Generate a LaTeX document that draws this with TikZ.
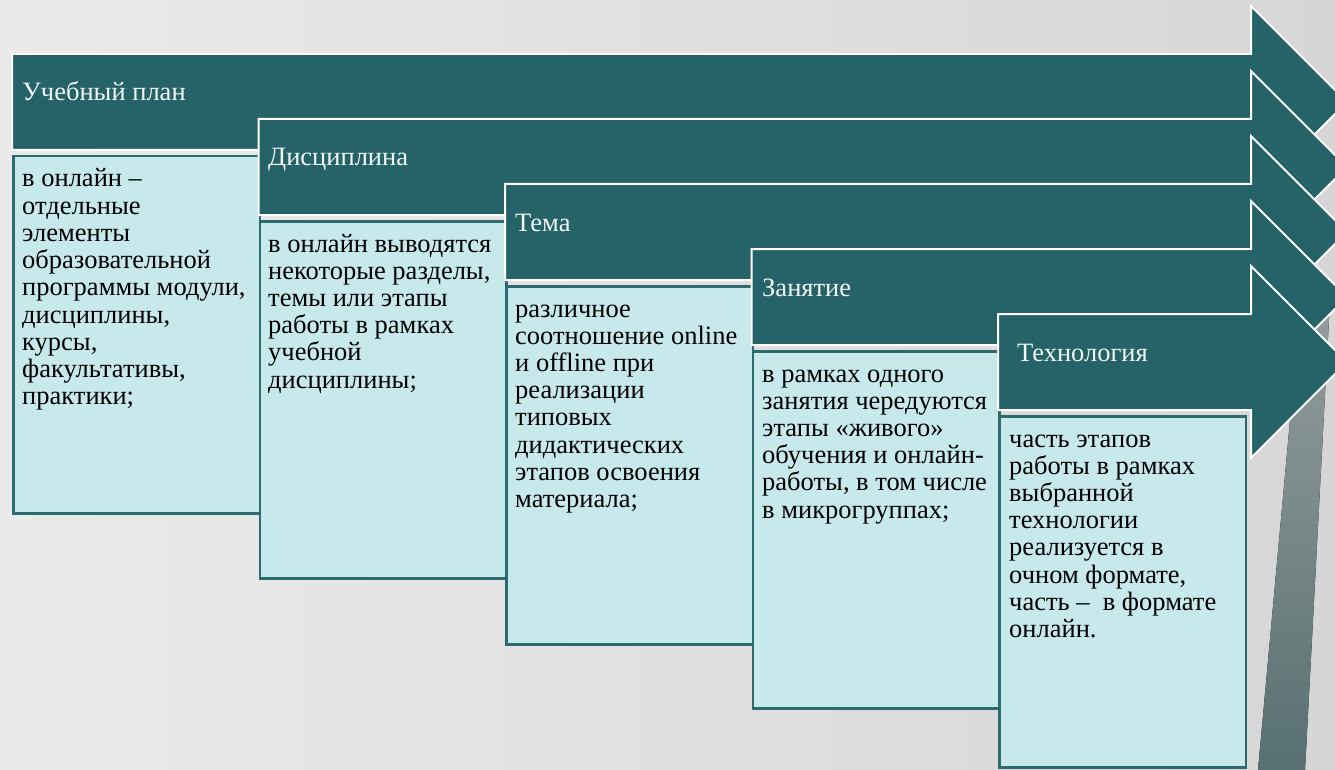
\documentclass[tikz,border=0pt]{standalone}
\usepackage{fontspec}
\setmainfont{Liberation Serif}
\usepackage{xcolor}
\usepackage{tikz}

\definecolor{stagefill}{RGB}{37,99,104}
\definecolor{notefill}{RGB}{200,233,236}
\definecolor{noteline}{RGB}{44,106,111}
\definecolor{bgleft}{RGB}{234,234,234}
\definecolor{bgright}{RGB}{214,214,214}
\definecolor{bartop}{RGB}{150,158,158}
\definecolor{barbottom}{RGB}{88,112,112}

\tikzset{
    stage/.style={fill=stagefill, draw=white, line width=2pt, line join=miter},
    note/.style={fill=notefill, draw=noteline, line width=2.5pt, anchor=north west,
        minimum width=246.5pt, inner sep=0pt},
    stagelabel/.style={anchor=base west, inner sep=0pt, text=white!94!stagefill,
        font=\fontsize{26.5}{27.2}\selectfont},
    notetext/.style={anchor=base west, inner sep=0pt, text=black,
        font=\fontsize{26.5}{27.2}\selectfont},
}

\begin{document}
\begin{tikzpicture}[x=1pt, y=-1pt]
    \useasboundingbox (0,0) rectangle (1335,770);
    \clip (0,0) rectangle (1335,770);
    \fill[left color=bgleft, right color=bgright] (0,0) rectangle (1335,770);
    \fill[top color=bartop, bottom color=barbottom]
        (1301,300) -- (1330,300) -- (1305,770) -- (1258,770) -- cycle;

    \foreach \k/\h in {0/357, 1/357, 2/358, 3/357, 4/351} {
        \pgfmathsetmacro{\xleft}{12+246.5*\k}
        \pgfmathsetmacro{\ytop}{54+65*\k}
        \draw[stage] (\xleft,\ytop) -- (1251,\ytop) -- (1251,\ytop-48) -- (1347,\ytop+48)
            -- (1251,\ytop+144) -- (1251,\ytop+96) -- (\xleft,\ytop+96) -- cycle;
        \node[note, minimum height=\h pt] (note\k) at (\xleft,\ytop+101) {};
    }

    \node[stagelabel] (plan) at (22,101) {Учебный план};
    \node[stagelabel] (discipline) at (268,166) {Дисциплина};
    \node[stagelabel] (topic) at (515,231) {Тема};
    \node[stagelabel] (lesson) at (762,296) {Занятие};
    \node[stagelabel] (tech) at (1017,361) {Технология};

    \node[notetext] (plantext) at (22,187) {
        \begin{tabular}[t]{@{}l@{}}
            в онлайн –\\
            отдельные\\
            элементы\\
            образовательной\\
            программы модули,\\
            дисциплины,\\
            курсы,\\
            факультативы,\\
            практики;
        \end{tabular}
    };
    \node[notetext] (disciplinetext) at (268,252) {
        \begin{tabular}[t]{@{}l@{}}
            в онлайн выводятся\\
            некоторые разделы,\\
            темы или этапы\\
            работы в рамках\\
            учебной\\
            дисциплины;
        \end{tabular}
    };
    \node[notetext] (topictext) at (515,317) {
        \begin{tabular}[t]{@{}l@{}}
            различное\\
            соотношение online\\
            и offline при\\
            реализации\\
            типовых\\
            дидактических\\
            этапов освоения\\
            материала;
        \end{tabular}
    };
    \node[notetext] (lessontext) at (762,382) {
        \begin{tabular}[t]{@{}l@{}}
            в рамках одного\\
            занятия чередуются\\
            этапы «живого»\\
            обучения и онлайн-\\
            работы, в том числе\\
            в микрогруппах;
        \end{tabular}
    };
    \node[notetext] (techtext) at (1009,447) {
        \begin{tabular}[t]{@{}l@{}}
            часть этапов\\
            работы в рамках\\
            выбранной\\
            технологии\\
            реализуется в\\
            очном формате,\\
            часть –\ \ в формате\\
            онлайн.
        \end{tabular}
    };
\end{tikzpicture}
\end{document}
